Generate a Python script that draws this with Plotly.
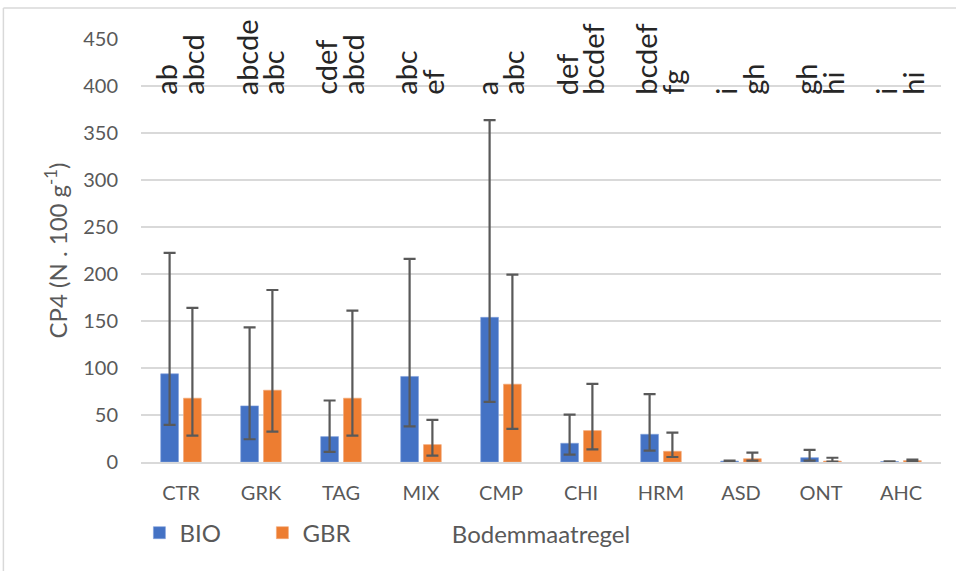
import plotly.graph_objects as go

categories = ["CTR", "GRK", "TAG", "MIX", "CMP", "CHI", "HRM", "ASD", "ONT", "AHC"]

bio_values = [93.8, 59.7, 27.0, 91.0, 153.9, 19.9, 29.5, 1.0, 4.6, 0.5]
bio_upper = [222.5, 143.2, 65.4, 216.0, 363.6, 50.5, 72.2, 1.5, 12.8, 0.8]
bio_lower = [39.5, 24.2, 10.7, 38.0, 64.0, 7.8, 12.0, 0.5, 1.5, 0.3]

gbr_values = [67.9, 76.4, 67.9, 18.5, 82.8, 33.4, 11.4, 3.5, 1.0, 1.5]
gbr_upper = [163.9, 183.0, 161.0, 44.8, 199.4, 83.2, 31.2, 9.9, 4.5, 2.5]
gbr_lower = [28.1, 32.3, 28.0, 6.8, 35.2, 13.5, 5.3, 1.5, 0.3, 0.8]

bio_letters = ["ab", "abcde", "cdef", "abc", "a", "def", "bcdef", "i", "gh", "i"]
gbr_letters = ["abcd", "abc", "abcd", "ef", "abc", "bcdef", "fg", "gh", "hi", "hi"]

y_ticks = [0, 50, 100, 150, 200, 250, 300, 350, 400, 450]

FONT = "Lato"
GRID = "#D9D9D9"
TXT = "#595959"
ERR = "#595959"


def plus(vals, up):
    return [u - v for v, u in zip(vals, up)]


def minus(vals, lo):
    return [v - l for v, l in zip(vals, lo)]


fig = go.Figure()
fig.add_trace(go.Bar(
    x=categories, y=bio_values, name="BIO",
    marker=dict(color="#4472C4", line=dict(color="#7F9FDB", width=0.6)),
    error_y=dict(type="data", symmetric=False, array=plus(bio_values, bio_upper),
                 arrayminus=minus(bio_values, bio_lower), color=ERR, thickness=2.2, width=6),
))
fig.add_trace(go.Bar(
    x=categories, y=gbr_values, name="GBR",
    marker=dict(color="#ED7D31", line=dict(color="#F4A877", width=0.6)),
    error_y=dict(type="data", symmetric=False, array=plus(gbr_values, gbr_upper),
                 arrayminus=minus(gbr_values, gbr_lower), color=ERR, thickness=2.2, width=6),
))

for cat, lb, lg in zip(categories, bio_letters, gbr_letters):
    for txt, shift in ((lb, -15), (lg, 12)):
        fig.add_annotation(x=cat, y=388, xref="x", yref="y", text=txt, textangle=-90,
                           showarrow=False, xanchor="center", yanchor="bottom",
                           xshift=shift, font=dict(family=FONT, size=29, color="#262626"))

# chart border (left and top)
fig.add_shape(type="line", xref="paper", yref="paper", x0=-0.172, x1=1.02, y0=1.073, y1=1.073,
              line=dict(color=GRID, width=1.5))
fig.add_shape(type="line", xref="paper", yref="paper", x0=-0.172, x1=-0.172, y0=1.073, y1=-0.26,
              line=dict(color=GRID, width=1.5))

fig.update_layout(
    width=956, height=571,
    margin=dict(l=141, r=15, t=39, b=109),
    paper_bgcolor="white", plot_bgcolor="white",
    barmode="group", bargap=0.43, bargroupgap=0.22,
    font=dict(family=FONT, color=TXT),
    showlegend=True,
    legend=dict(orientation="h", x=-0.002, y=-0.168, xanchor="left", yanchor="middle",
                font=dict(family=FONT, size=24, color=TXT), entrywidth=78,
                itemwidth=30, bgcolor="rgba(0,0,0,0)"),
    xaxis=dict(showgrid=False, showline=True, linecolor=GRID, linewidth=1.5,
               tickfont=dict(family=FONT, size=20, color=TXT), ticks="",
               ticklabelstandoff=12,
               title=dict(text="Bodemmaatregel", font=dict(family=FONT, size=24, color=TXT),
                          standoff=23)),
    yaxis=dict(range=[0, 450], tickvals=y_ticks, showgrid=True, gridcolor=GRID, gridwidth=1.5,
               zeroline=False, showline=False, ticks="", ticklabelstandoff=22,
               tickfont=dict(family=FONT, size=20, color=TXT),
               title=dict(text="CP4 (N . 100 g<sup>-1</sup>)",
                          font=dict(family=FONT, size=24, color=TXT), standoff=8)),
)

fig.write_html("out.html")
